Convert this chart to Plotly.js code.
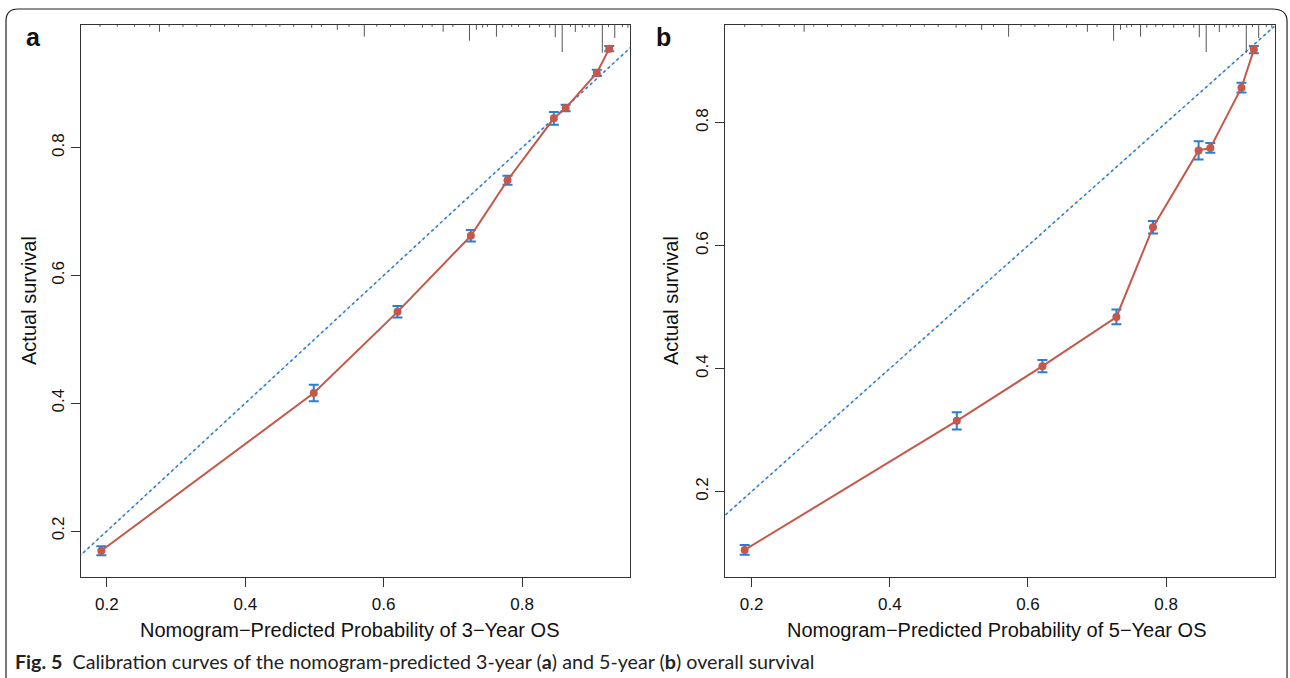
<!DOCTYPE html>
<html>
<head>
<meta charset="utf-8">
<script src="https://cdn.plot.ly/plotly-3.0.1.min.js"></script>
<style>html,body{margin:0;padding:0;background:#fff;}#chart{width:1290px;height:678px;}</style>
</head>
<body>
<div id="chart"></div>
<script>
// ---- data ----
const predA = [0.192, 0.499, 0.620, 0.726, 0.779, 0.846, 0.863, 0.908, 0.926];
const obsA  = [0.169, 0.416, 0.543, 0.662, 0.749, 0.846, 0.862, 0.917, 0.955];
const errA  = [0.007, 0.013, 0.009, 0.009, 0.007, 0.010, 0.005, 0.005, 0.004];

const predB = [0.190, 0.497, 0.621, 0.728, 0.781, 0.847, 0.864, 0.909, 0.927];
const obsB  = [0.105, 0.315, 0.404, 0.484, 0.630, 0.755, 0.759, 0.857, 0.919];
const errB  = [0.008, 0.014, 0.010, 0.012, 0.010, 0.015, 0.008, 0.008, 0.006];

// distribution of predicted risk (rug at top): position and relative frequency
const rugX = [0.190, 0.215, 0.240, 0.262, 0.276, 0.290, 0.310, 0.330, 0.350, 0.370, 0.390, 0.410,
              0.430, 0.450, 0.470, 0.496, 0.510, 0.533, 0.550, 0.572, 0.590, 0.610, 0.630, 0.656,
              0.670, 0.686, 0.700, 0.724, 0.734, 0.743, 0.750, 0.763, 0.772, 0.785, 0.795, 0.811,
              0.825, 0.840, 0.848, 0.858, 0.870, 0.877, 0.887, 0.897, 0.905, 0.916, 0.925, 0.934, 0.945, 0.953];
const rugN = [0.7, 0.6, 0.7, 0.6, 2.5, 0.6, 0.7, 0.6, 0.7, 0.6, 0.7, 0.6,
              0.7, 0.6, 0.7, 1.0, 0.7, 1.8, 0.7, 4.3, 0.6, 0.7, 0.6, 1.0,
              0.7, 2.5, 0.7, 5.8, 1.8, 1.0, 0.7, 4.3, 1.0, 0.7, 0.6, 1.0,
              0.7, 1.0, 4.5, 10.0, 0.7, 2.6, 1.0, 0.8, 0.7, 10.3, 0.8, 4.8, 0.8, 1.0];

const xTicks = [0.2, 0.4, 0.6, 0.8];
const xTickText = ['0.2', '0.4', '0.6', '0.8'];
const diagX = [0, 1];
const diagY = [0, 1];

const titleX3 = 'Nomogram\u2212Predicted Probability of 3\u2212Year OS';
const titleX5 = 'Nomogram\u2212Predicted Probability of 5\u2212Year OS';
const titleY = 'Actual survival';

// ---- layout geometry ----
const W = 1290, H = 678;
const rangeXA = [0.1626, 0.956], rangeYA = [0.128, 0.992];
const rangeXB = [0.1615, 0.957], rangeYB = [0.061, 0.959];
const plotTop = 25, plotBot = 577;
const domY = [1 - plotBot / H, 1 - plotTop / H];
const domXA = [81 / W, 630 / W];
const domXB = [725 / W, 1274.6 / W];

const RED = '#c4584a';
const BLUE = '#2a7fd4';
const FONT = "'Liberation Sans', Arial, Helvetica, sans-serif";

function rugTrace(xa, ya, yr) {
  const unit = (yr[1] - yr[0]) * 2.7 / (plotBot - plotTop);
  const xs = [], ys = [];
  rugX.forEach((x, i) => { xs.push(x, x, null); ys.push(yr[1], yr[1] - rugN[i] * unit, null); });
  return {x: xs, y: ys, xaxis: xa, yaxis: ya, mode: 'lines', type: 'scatter',
          line: {color: '#555', width: 1}, hoverinfo: 'skip', showlegend: false};
}

function panel(pred, obs, err, xa, ya, yr) {
  return [
    {x: diagX, y: diagY, xaxis: xa, yaxis: ya, mode: 'lines', type: 'scatter',
     line: {color: '#d8d8d8', width: 1}, hoverinfo: 'skip', showlegend: false},
    {x: diagX, y: diagY, xaxis: xa, yaxis: ya, mode: 'lines', type: 'scatter',
     line: {color: BLUE, width: 1.6, dash: 'dot'}, showlegend: false},
    rugTrace(xa, ya, yr),
    {x: pred, y: obs, xaxis: xa, yaxis: ya, mode: 'lines+markers', type: 'scatter',
     line: {color: RED, width: 2},
     marker: {color: RED, size: 8, symbol: 'circle'},
     error_y: {type: 'data', array: err, visible: true, color: BLUE, thickness: 2, width: 5},
     showlegend: false}
  ];
}

const data = [].concat(
  panel(predA, obsA, errA, 'x', 'y', rangeYA),
  panel(predB, obsB, errB, 'x2', 'y2', rangeYB)
);

function xAxis(dom, range) {
  return {domain: dom, range: range, tickvals: xTicks, ticktext: xTickText,
          showline: true, mirror: true, linecolor: '#333', linewidth: 1.2,
          ticks: 'outside', ticklen: 9, tickcolor: '#333', tickwidth: 1,
          ticklabelstandoff: 2,
          showgrid: false, zeroline: false,
          tickfont: {family: FONT, size: 17, color: '#111'}};
}
function yAxis(dom, range, anchor) {
  return {domain: dom, range: range, anchor: anchor, tickvals: xTicks, ticktext: xTickText,
          showline: true, mirror: true, linecolor: '#333', linewidth: 1.2,
          ticks: 'outside', ticklen: 9, tickcolor: '#333', tickwidth: 1,
          tickangle: -90, ticklabelstandoff: 0,
          showgrid: false, zeroline: false,
          tickfont: {family: FONT, size: 17, color: '#111'}};
}

function axTitle(text, x, y, angle) {
  return {text: text, xref: 'paper', yref: 'paper', x: x / W, y: 1 - y / H,
          xanchor: 'center', yanchor: 'middle', showarrow: false, textangle: angle,
          font: {family: FONT, size: 20, color: '#111'}};
}

const layout = {
  width: W, height: H,
  margin: {l: 0, r: 0, t: 0, b: 0},
  paper_bgcolor: '#fff', plot_bgcolor: '#fff',
  showlegend: false,
  xaxis: Object.assign(xAxis(domXA, rangeXA), {anchor: 'y'}),
  yaxis: yAxis(domY, rangeYA, 'x'),
  xaxis2: Object.assign(xAxis(domXB, rangeXB), {anchor: 'y2'}),
  yaxis2: yAxis(domY, rangeYB, 'x2'),
  shapes: [
    {type: 'path', xref: 'paper', yref: 'paper', layer: 'below',
     path: 'M 0.00465 0 L 0.00465 0.9690 Q 0.00465 0.9867 0.0140 0.9867 L 0.9860 0.9867 Q 0.9977 0.9867 0.9977 0.9690 L 0.9977 0',
     line: {color: '#222', width: 1.2}}
  ],
  annotations: [
    axTitle(titleX3, 349, 630, 0),
    axTitle(titleX5, 996, 630, 0),
    axTitle(titleY, 29, 301, -90),
    axTitle(titleY, 671, 301, -90),
    {text: '<b>a</b>', xref: 'paper', yref: 'paper', x: 33 / W, y: 1 - 37 / H,
     xanchor: 'center', yanchor: 'middle', showarrow: false,
     font: {family: FONT, size: 25, color: '#111'}},
    {text: '<b>b</b>', xref: 'paper', yref: 'paper', x: 663 / W, y: 1 - 37 / H,
     xanchor: 'center', yanchor: 'middle', showarrow: false,
     font: {family: FONT, size: 25, color: '#111'}},
    {text: '<b>Fig. 5</b>  Calibration curves of the nomogram-predicted 3-year (<b>a</b>) and 5-year (<b>b</b>) overall survival',
     xref: 'paper', yref: 'paper', x: 13 / W, y: 1 - 661 / H,
     xanchor: 'left', yanchor: 'middle', showarrow: false,
     font: {family: 'Lato, Open Sans, sans-serif', size: 19.7, color: '#222'}}
  ]
};

Plotly.newPlot('chart', data, layout, {displayModeBar: false, staticPlot: true});
</script>
</body>
</html>
